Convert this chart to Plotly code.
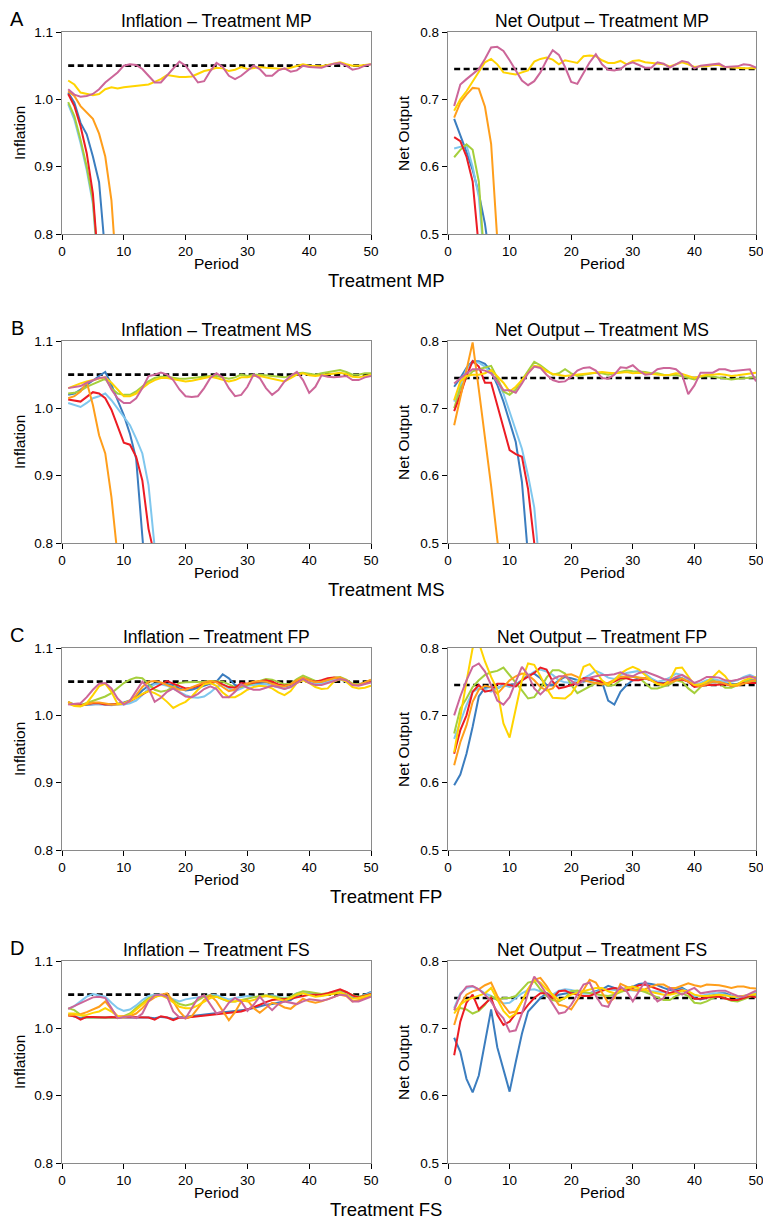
import plotly.graph_objects as go
from plotly.subplots import make_subplots

# ---- data ----
periods = list(range(1, 51))
infl_target = 1.05
output_target = 0.745
shock_start, shock_end = 8, 10

series_names = ["blue", "lightblue", "green", "red", "orange", "yellow", "pink"]
series_colors = ["#3b7dbf", "#7fc7ee", "#a5cf3c", "#ec1c24", "#ff9e1b", "#ffd400", "#cc6699"]

# Treatment MP - inflation
mp_infl_blue = [1.010, 0.995, 0.965, 0.948, 0.915, 0.877, 0.77]
mp_infl_lightblue = [0.993, 0.970, 0.935, 0.895, 0.845, 0.73]
mp_infl_green = [0.996, 0.975, 0.940, 0.900, 0.850, 0.74]
mp_infl_red = [1.008, 0.990, 0.960, 0.920, 0.860, 0.74]
mp_infl_orange = [1.012, 1.005, 0.990, 0.980, 0.971, 0.949, 0.915, 0.850, 0.72]
mp_infl_yellow = [1.028, 1.022, 1.010, 1.008, 1.006, 1.008, 1.015, 1.018, 1.016, 1.018,
                  1.019, 1.019, 1.020, 1.022, 1.026, 1.030, 1.036, 1.034, 1.033, 1.033,
                  1.034, 1.038, 1.042, 1.044, 1.047, 1.046, 1.042, 1.044, 1.048, 1.045,
                  1.047, 1.048, 1.047, 1.046, 1.045, 1.045, 1.047, 1.050, 1.052, 1.050,
                  1.050, 1.049, 1.051, 1.053, 1.055, 1.052, 1.050, 1.050, 1.051, 1.052]
mp_infl_pink = [1.015, 1.007, 1.004, 1.005, 1.008, 1.015, 1.025, 1.033, 1.040, 1.050,
                1.052, 1.051, 1.045, 1.035, 1.025, 1.025, 1.035, 1.045, 1.056, 1.050,
                1.038, 1.025, 1.027, 1.042, 1.054, 1.048, 1.035, 1.030, 1.035, 1.042,
                1.050, 1.045, 1.035, 1.035, 1.043, 1.046, 1.041, 1.043, 1.050, 1.048,
                1.048, 1.047, 1.050, 1.053, 1.054, 1.050, 1.044, 1.046, 1.050, 1.052]

# Treatment MP - net output
mp_out_blue = [0.671, 0.648, 0.622, 0.595, 0.560, 0.515, 0.45]
mp_out_lightblue = [0.627, 0.630, 0.632, 0.600, 0.555, 0.45]
mp_out_green = [0.614, 0.625, 0.633, 0.625, 0.578, 0.45]
mp_out_red = [0.644, 0.638, 0.615, 0.578, 0.48]
mp_out_orange = [0.673, 0.695, 0.707, 0.717, 0.716, 0.689, 0.634, 0.49, 0.35]
mp_out_yellow = [0.683, 0.700, 0.712, 0.727, 0.740, 0.755, 0.760, 0.752, 0.740, 0.739,
                 0.737, 0.740, 0.743, 0.756, 0.760, 0.762, 0.759, 0.752, 0.758, 0.756,
                 0.754, 0.764, 0.765, 0.764, 0.758, 0.754, 0.754, 0.757, 0.752, 0.757,
                 0.758, 0.755, 0.754, 0.752, 0.752, 0.749, 0.752, 0.755, 0.752, 0.748,
                 0.749, 0.749, 0.751, 0.751, 0.748, 0.747, 0.747, 0.746, 0.746, 0.746]
mp_out_pink = [0.690, 0.722, 0.730, 0.738, 0.745, 0.760, 0.777, 0.778, 0.772, 0.758,
               0.742, 0.728, 0.721, 0.727, 0.740, 0.758, 0.773, 0.766, 0.748, 0.726,
               0.723, 0.738, 0.755, 0.767, 0.752, 0.744, 0.743, 0.745, 0.752, 0.755,
               0.751, 0.747, 0.747, 0.755, 0.753, 0.747, 0.752, 0.757, 0.755, 0.746,
               0.750, 0.751, 0.753, 0.753, 0.748, 0.748, 0.749, 0.752, 0.751, 0.747]

# Treatment MS - inflation
ms_infl_blue = [1.020, 1.022, 1.028, 1.035, 1.042, 1.048, 1.054, 1.035, 1.012, 0.990,
                0.962, 0.925, 0.81, 0.70]
ms_infl_lightblue = [1.008, 1.005, 1.002, 1.008, 1.015, 1.018, 1.022, 1.012, 1.000, 0.988,
                     0.975, 0.955, 0.933, 0.886, 0.80, 0.70]
ms_infl_green = [1.022, 1.023, 1.026, 1.032, 1.036, 1.040, 1.044, 1.030, 1.022, 1.020,
                 1.020, 1.025, 1.032, 1.040, 1.045, 1.047, 1.047, 1.045, 1.044, 1.044,
                 1.045, 1.046, 1.048, 1.048, 1.048, 1.046, 1.044, 1.046, 1.050, 1.048,
                 1.050, 1.050, 1.049, 1.048, 1.047, 1.046, 1.048, 1.052, 1.053, 1.051,
                 1.050, 1.052, 1.054, 1.056, 1.057, 1.054, 1.050, 1.050, 1.052, 1.052]
ms_infl_red = [1.013, 1.012, 1.010, 1.017, 1.024, 1.022, 1.015, 0.998, 0.972, 0.949,
               0.946, 0.928, 0.893, 0.821, 0.78]
ms_infl_orange = [1.015, 1.018, 1.025, 1.039, 1.005, 0.960, 0.933, 0.868, 0.78]
ms_infl_yellow = [1.030, 1.034, 1.037, 1.040, 1.042, 1.044, 1.046, 1.038, 1.028, 1.018,
                  1.018, 1.022, 1.030, 1.037, 1.042, 1.045, 1.045, 1.043, 1.041, 1.040,
                  1.041, 1.043, 1.046, 1.047, 1.045, 1.042, 1.040, 1.042, 1.046, 1.046,
                  1.048, 1.048, 1.046, 1.044, 1.042, 1.040, 1.045, 1.050, 1.052, 1.049,
                  1.048, 1.049, 1.050, 1.052, 1.053, 1.051, 1.047, 1.046, 1.048, 1.050]
ms_infl_pink = [1.030, 1.031, 1.033, 1.038, 1.042, 1.045, 1.046, 1.028, 1.015, 1.008,
                1.008, 1.015, 1.030, 1.048, 1.050, 1.053, 1.050, 1.042, 1.028, 1.018,
                1.017, 1.018, 1.030, 1.045, 1.052, 1.046, 1.030, 1.018, 1.020, 1.032,
                1.050, 1.045, 1.030, 1.020, 1.027, 1.040, 1.048, 1.054, 1.042, 1.023,
                1.032, 1.049, 1.047, 1.046, 1.047, 1.048, 1.042, 1.042, 1.046, 1.048]

# Treatment MS - net output
ms_out_blue = [0.732, 0.745, 0.760, 0.770, 0.770, 0.766, 0.755, 0.735, 0.710, 0.680,
               0.650, 0.591, 0.48]
ms_out_lightblue = [0.710, 0.735, 0.758, 0.768, 0.768, 0.762, 0.752, 0.740, 0.722, 0.695,
                    0.668, 0.640, 0.600, 0.553, 0.45]
ms_out_green = [0.700, 0.730, 0.745, 0.755, 0.758, 0.760, 0.763, 0.745, 0.725, 0.720,
                0.728, 0.742, 0.755, 0.769, 0.764, 0.757, 0.750, 0.752, 0.758, 0.752,
                0.748, 0.750, 0.752, 0.753, 0.752, 0.750, 0.752, 0.754, 0.756, 0.755,
                0.755, 0.754, 0.752, 0.752, 0.750, 0.749, 0.750, 0.748, 0.746, 0.743,
                0.747, 0.748, 0.747, 0.746, 0.745, 0.743, 0.744, 0.745, 0.746, 0.746]
ms_out_red = [0.696, 0.720, 0.748, 0.770, 0.762, 0.738, 0.738, 0.705, 0.672, 0.638,
              0.632, 0.628, 0.580, 0.50, 0.42]
ms_out_orange = [0.675, 0.715, 0.760, 0.798, 0.728, 0.660, 0.585, 0.505, 0.43]
ms_out_yellow = [0.712, 0.740, 0.748, 0.750, 0.750, 0.752, 0.757, 0.748, 0.738, 0.725,
                 0.732, 0.742, 0.752, 0.763, 0.762, 0.755, 0.751, 0.749, 0.748, 0.749,
                 0.750, 0.752, 0.753, 0.753, 0.754, 0.753, 0.752, 0.753, 0.754, 0.752,
                 0.753, 0.752, 0.751, 0.750, 0.749, 0.750, 0.752, 0.751, 0.748, 0.745,
                 0.748, 0.750, 0.750, 0.751, 0.750, 0.748, 0.749, 0.750, 0.752, 0.753]
ms_out_pink = [0.737, 0.745, 0.752, 0.758, 0.758, 0.756, 0.752, 0.740, 0.727, 0.727,
               0.723, 0.737, 0.752, 0.762, 0.760, 0.750, 0.742, 0.739, 0.740, 0.747,
               0.756, 0.760, 0.761, 0.756, 0.745, 0.744, 0.750, 0.761, 0.760, 0.764,
               0.756, 0.750, 0.751, 0.758, 0.760, 0.760, 0.758, 0.750, 0.721, 0.734,
               0.753, 0.753, 0.753, 0.758, 0.758, 0.755, 0.756, 0.757, 0.758, 0.740]

# Treatment FP - inflation
fp_infl_blue = [1.019, 1.016, 1.015, 1.016, 1.017, 1.017, 1.016, 1.016, 1.017, 1.019,
                1.022, 1.028, 1.037, 1.044, 1.047, 1.048, 1.047, 1.045, 1.040, 1.037,
                1.038, 1.041, 1.044, 1.046, 1.050, 1.061, 1.055, 1.045, 1.042, 1.045,
                1.046, 1.048, 1.049, 1.047, 1.045, 1.043, 1.045, 1.051, 1.056, 1.052,
                1.049, 1.050, 1.052, 1.054, 1.054, 1.050, 1.046, 1.046, 1.049, 1.051]
fp_infl_lightblue = [1.018, 1.016, 1.016, 1.017, 1.017, 1.017, 1.016, 1.015, 1.016, 1.016,
                     1.018, 1.022, 1.030, 1.040, 1.046, 1.046, 1.044, 1.040, 1.035, 1.030,
                     1.027, 1.026, 1.028, 1.034, 1.042, 1.046, 1.040, 1.036, 1.040, 1.044,
                     1.045, 1.046, 1.046, 1.044, 1.041, 1.039, 1.042, 1.050, 1.054, 1.050,
                     1.047, 1.047, 1.050, 1.053, 1.054, 1.050, 1.045, 1.045, 1.048, 1.050]
fp_infl_green = [1.020, 1.016, 1.015, 1.018, 1.021, 1.024, 1.028, 1.033, 1.040, 1.048,
                 1.053, 1.056, 1.055, 1.046, 1.038, 1.035, 1.037, 1.042, 1.048, 1.049,
                 1.049, 1.049, 1.050, 1.051, 1.051, 1.050, 1.046, 1.042, 1.042, 1.045,
                 1.049, 1.052, 1.054, 1.053, 1.049, 1.046, 1.047, 1.054, 1.059, 1.055,
                 1.051, 1.050, 1.053, 1.056, 1.057, 1.053, 1.047, 1.046, 1.049, 1.052]
fp_infl_red = [1.018, 1.015, 1.015, 1.017, 1.018, 1.018, 1.016, 1.016, 1.017, 1.018,
               1.021, 1.026, 1.032, 1.036, 1.041, 1.046, 1.051, 1.047, 1.043, 1.040,
               1.041, 1.044, 1.047, 1.049, 1.050, 1.046, 1.042, 1.041, 1.048, 1.047,
               1.049, 1.050, 1.052, 1.050, 1.046, 1.044, 1.046, 1.051, 1.055, 1.052,
               1.050, 1.052, 1.055, 1.056, 1.055, 1.051, 1.045, 1.045, 1.048, 1.050]
fp_infl_orange = [1.020, 1.015, 1.014, 1.017, 1.019, 1.019, 1.017, 1.016, 1.016, 1.017,
                  1.021, 1.030, 1.042, 1.050, 1.051, 1.049, 1.045, 1.041, 1.038, 1.038,
                  1.042, 1.046, 1.049, 1.051, 1.049, 1.042, 1.036, 1.038, 1.044, 1.047,
                  1.050, 1.051, 1.050, 1.047, 1.044, 1.043, 1.046, 1.052, 1.056, 1.052,
                  1.049, 1.050, 1.053, 1.055, 1.056, 1.052, 1.046, 1.045, 1.049, 1.053]
fp_infl_yellow = [1.018, 1.014, 1.013, 1.018, 1.030, 1.043, 1.047, 1.035, 1.017, 1.018,
                  1.022, 1.026, 1.032, 1.036, 1.033, 1.028, 1.020, 1.011, 1.016, 1.020,
                  1.028, 1.038, 1.046, 1.048, 1.044, 1.034, 1.027, 1.027, 1.032, 1.038,
                  1.042, 1.044, 1.043, 1.040, 1.034, 1.030, 1.036, 1.048, 1.052, 1.048,
                  1.042, 1.039, 1.040, 1.050, 1.054, 1.050, 1.042, 1.040, 1.041, 1.044]
fp_infl_pink = [1.016, 1.017, 1.018, 1.027, 1.038, 1.047, 1.048, 1.040, 1.025, 1.016,
                1.022, 1.036, 1.050, 1.040, 1.020, 1.026, 1.035, 1.040, 1.034, 1.028,
                1.027, 1.032, 1.039, 1.043, 1.039, 1.027, 1.027, 1.035, 1.046, 1.041,
                1.038, 1.038, 1.041, 1.044, 1.042, 1.039, 1.042, 1.048, 1.054, 1.048,
                1.045, 1.045, 1.048, 1.052, 1.054, 1.052, 1.045, 1.044, 1.046, 1.049]

# Treatment FP - net output
fp_out_blue = [0.596, 0.612, 0.643, 0.683, 0.728, 0.741, 0.742, 0.740, 0.745, 0.745,
               0.746, 0.752, 0.760, 0.762, 0.755, 0.745, 0.745, 0.752, 0.757, 0.755,
               0.752, 0.750, 0.752, 0.752, 0.750, 0.722, 0.716, 0.735, 0.745, 0.752,
               0.755, 0.755, 0.752, 0.749, 0.748, 0.750, 0.755, 0.755, 0.750, 0.744,
               0.745, 0.748, 0.750, 0.750, 0.748, 0.746, 0.747, 0.750, 0.752, 0.752]
fp_out_lightblue = [0.665, 0.690, 0.715, 0.735, 0.740, 0.738, 0.735, 0.740, 0.745, 0.742,
                    0.745, 0.752, 0.758, 0.765, 0.768, 0.765, 0.760, 0.752, 0.749, 0.748,
                    0.752, 0.755, 0.760, 0.766, 0.762, 0.756, 0.754, 0.760, 0.763, 0.765,
                    0.766, 0.762, 0.755, 0.750, 0.752, 0.756, 0.762, 0.760, 0.752, 0.745,
                    0.748, 0.752, 0.754, 0.752, 0.750, 0.750, 0.752, 0.757, 0.760, 0.756]
fp_out_green = [0.673, 0.710, 0.725, 0.742, 0.752, 0.760, 0.764, 0.766, 0.771, 0.760,
                0.748, 0.737, 0.725, 0.727, 0.740, 0.756, 0.767, 0.767, 0.762, 0.745,
                0.733, 0.738, 0.742, 0.748, 0.748, 0.744, 0.745, 0.752, 0.756, 0.758,
                0.756, 0.748, 0.740, 0.740, 0.743, 0.746, 0.752, 0.750, 0.740, 0.733,
                0.742, 0.750, 0.752, 0.748, 0.741, 0.741, 0.745, 0.750, 0.752, 0.750]
fp_out_red = [0.643, 0.678, 0.700, 0.735, 0.745, 0.735, 0.737, 0.747, 0.747, 0.745,
              0.743, 0.752, 0.758, 0.763, 0.771, 0.768, 0.750, 0.740, 0.742, 0.745,
              0.748, 0.755, 0.755, 0.752, 0.750, 0.747, 0.750, 0.755, 0.755, 0.752,
              0.752, 0.755, 0.752, 0.748, 0.747, 0.750, 0.753, 0.753, 0.750, 0.742,
              0.744, 0.745, 0.745, 0.746, 0.746, 0.744, 0.746, 0.748, 0.748, 0.748]
fp_out_orange = [0.626, 0.660, 0.685, 0.720, 0.738, 0.744, 0.742, 0.732, 0.742, 0.752,
                 0.758, 0.762, 0.760, 0.752, 0.742, 0.737, 0.740, 0.752, 0.760, 0.761,
                 0.757, 0.752, 0.750, 0.748, 0.746, 0.748, 0.752, 0.757, 0.758, 0.757,
                 0.755, 0.755, 0.752, 0.747, 0.745, 0.748, 0.752, 0.755, 0.750, 0.745,
                 0.743, 0.746, 0.750, 0.750, 0.747, 0.744, 0.744, 0.747, 0.750, 0.753]
fp_out_yellow = [0.645, 0.700, 0.750, 0.800, 0.808, 0.780, 0.757, 0.738, 0.688, 0.667,
                 0.710, 0.752, 0.777, 0.775, 0.758, 0.740, 0.726, 0.725, 0.725, 0.732,
                 0.746, 0.772, 0.776, 0.765, 0.752, 0.745, 0.752, 0.762, 0.768, 0.772,
                 0.768, 0.760, 0.752, 0.746, 0.745, 0.752, 0.770, 0.771, 0.758, 0.745,
                 0.746, 0.750, 0.757, 0.766, 0.758, 0.745, 0.746, 0.752, 0.755, 0.757]
fp_out_pink = [0.700, 0.728, 0.752, 0.772, 0.777, 0.765, 0.745, 0.722, 0.716, 0.727,
               0.750, 0.772, 0.760, 0.740, 0.731, 0.740, 0.754, 0.758, 0.758, 0.752,
               0.745, 0.752, 0.756, 0.758, 0.760, 0.760, 0.761, 0.764, 0.760, 0.758,
               0.763, 0.765, 0.762, 0.758, 0.754, 0.752, 0.757, 0.760, 0.755, 0.748,
               0.752, 0.757, 0.757, 0.756, 0.752, 0.751, 0.753, 0.756, 0.758, 0.755]

# Treatment FS - inflation
fs_infl_blue = [1.020, 1.017, 1.015, 1.016, 1.016, 1.016, 1.016, 1.017, 1.016, 1.017,
                1.017, 1.016, 1.017, 1.016, 1.015, 1.017, 1.016, 1.014, 1.016, 1.017,
                1.018, 1.019, 1.020, 1.021, 1.022, 1.023, 1.024, 1.025, 1.026, 1.028,
                1.030, 1.033, 1.035, 1.036, 1.038, 1.040, 1.042, 1.048, 1.053, 1.052,
                1.051, 1.049, 1.050, 1.053, 1.055, 1.053, 1.047, 1.046, 1.050, 1.054]
fs_infl_lightblue = [1.029, 1.033, 1.040, 1.047, 1.051, 1.049, 1.047, 1.038, 1.030, 1.026,
                     1.028, 1.034, 1.042, 1.048, 1.050, 1.050, 1.047, 1.043, 1.040, 1.043,
                     1.045, 1.046, 1.047, 1.050, 1.049, 1.046, 1.043, 1.045, 1.047, 1.048,
                     1.047, 1.046, 1.048, 1.049, 1.047, 1.045, 1.047, 1.052, 1.054, 1.053,
                     1.051, 1.050, 1.051, 1.053, 1.055, 1.053, 1.048, 1.047, 1.049, 1.053]
fs_infl_green = [1.030, 1.027, 1.020, 1.016, 1.016, 1.016, 1.016, 1.016, 1.016, 1.018,
                 1.022, 1.030, 1.038, 1.045, 1.048, 1.049, 1.047, 1.042, 1.036, 1.034,
                 1.036, 1.042, 1.047, 1.049, 1.047, 1.043, 1.040, 1.040, 1.042, 1.045,
                 1.047, 1.048, 1.049, 1.048, 1.046, 1.044, 1.047, 1.052, 1.055, 1.054,
                 1.052, 1.051, 1.052, 1.054, 1.056, 1.054, 1.049, 1.047, 1.049, 1.051]
fs_infl_red = [1.019, 1.018, 1.013, 1.017, 1.017, 1.016, 1.016, 1.017, 1.016, 1.017,
               1.017, 1.016, 1.017, 1.016, 1.013, 1.018, 1.016, 1.012, 1.016, 1.015,
               1.017, 1.018, 1.019, 1.020, 1.021, 1.022, 1.022, 1.023, 1.025, 1.028,
               1.031, 1.035, 1.039, 1.042, 1.043, 1.043, 1.044, 1.046, 1.048, 1.050,
               1.050, 1.050, 1.052, 1.055, 1.058, 1.054, 1.049, 1.046, 1.048, 1.051]
fs_infl_orange = [1.019, 1.020, 1.021, 1.024, 1.028, 1.032, 1.040, 1.028, 1.018, 1.018,
                  1.018, 1.022, 1.030, 1.040, 1.046, 1.050, 1.052, 1.040, 1.025, 1.015,
                  1.018, 1.030, 1.042, 1.049, 1.040, 1.026, 1.012, 1.024, 1.040, 1.042,
                  1.030, 1.023, 1.030, 1.038, 1.036, 1.031, 1.029, 1.037, 1.044, 1.040,
                  1.038, 1.040, 1.043, 1.047, 1.050, 1.048, 1.040, 1.042, 1.046, 1.049]
fs_infl_yellow = [1.022, 1.022, 1.019, 1.020, 1.023, 1.025, 1.030, 1.025, 1.018, 1.016,
                  1.020, 1.028, 1.036, 1.043, 1.047, 1.049, 1.045, 1.038, 1.032, 1.030,
                  1.030, 1.034, 1.039, 1.045, 1.047, 1.043, 1.040, 1.040, 1.042, 1.040,
                  1.042, 1.046, 1.048, 1.046, 1.043, 1.041, 1.045, 1.050, 1.052, 1.050,
                  1.047, 1.048, 1.050, 1.052, 1.053, 1.050, 1.044, 1.045, 1.048, 1.050]
fs_infl_pink = [1.029, 1.033, 1.037, 1.042, 1.046, 1.047, 1.045, 1.030, 1.015, 1.017,
                1.018, 1.015, 1.022, 1.040, 1.049, 1.050, 1.047, 1.025, 1.016, 1.015,
                1.030, 1.045, 1.049, 1.035, 1.022, 1.025, 1.038, 1.045, 1.040, 1.026,
                1.035, 1.047, 1.036, 1.027, 1.036, 1.040, 1.038, 1.036, 1.040, 1.043,
                1.042, 1.041, 1.043, 1.047, 1.050, 1.049, 1.040, 1.040, 1.044, 1.047]

# Treatment FS - net output
fs_out_blue = [0.686, 0.665, 0.625, 0.605, 0.630, 0.680, 0.728, 0.672, 0.638, 0.606,
               0.650, 0.692, 0.725, 0.735, 0.745, 0.752, 0.745, 0.750, 0.752, 0.754,
               0.755, 0.752, 0.752, 0.755, 0.758, 0.763, 0.760, 0.757, 0.760, 0.762,
               0.766, 0.767, 0.766, 0.764, 0.760, 0.757, 0.758, 0.760, 0.755, 0.745,
               0.743, 0.746, 0.749, 0.752, 0.752, 0.748, 0.745, 0.746, 0.750, 0.752]
fs_out_lightblue = [0.730, 0.752, 0.760, 0.762, 0.758, 0.752, 0.748, 0.742, 0.737, 0.738,
                    0.745, 0.752, 0.757, 0.758, 0.755, 0.752, 0.750, 0.756, 0.758, 0.757,
                    0.754, 0.752, 0.752, 0.754, 0.756, 0.758, 0.757, 0.756, 0.757, 0.756,
                    0.755, 0.755, 0.755, 0.755, 0.754, 0.752, 0.755, 0.758, 0.755, 0.748,
                    0.748, 0.750, 0.752, 0.752, 0.750, 0.748, 0.746, 0.748, 0.751, 0.753]
fs_out_green = [0.727, 0.730, 0.728, 0.722, 0.726, 0.735, 0.748, 0.742, 0.745, 0.745,
                0.748, 0.758, 0.768, 0.770, 0.758, 0.748, 0.742, 0.740, 0.745, 0.755,
                0.756, 0.754, 0.752, 0.750, 0.749, 0.748, 0.750, 0.754, 0.757, 0.758,
                0.757, 0.754, 0.750, 0.745, 0.742, 0.742, 0.748, 0.752, 0.748, 0.738,
                0.737, 0.740, 0.745, 0.748, 0.745, 0.741, 0.740, 0.743, 0.747, 0.750]
fs_out_red = [0.660, 0.710, 0.738, 0.750, 0.728, 0.736, 0.745, 0.720, 0.705, 0.710,
              0.722, 0.723, 0.735, 0.745, 0.752, 0.752, 0.745, 0.755, 0.756, 0.752,
              0.750, 0.748, 0.748, 0.752, 0.756, 0.758, 0.760, 0.758, 0.756, 0.760,
              0.764, 0.765, 0.762, 0.758, 0.755, 0.752, 0.755, 0.757, 0.752, 0.744,
              0.744, 0.746, 0.747, 0.747, 0.745, 0.742, 0.742, 0.745, 0.748, 0.746]
fs_out_orange = [0.705, 0.735, 0.750, 0.755, 0.758, 0.764, 0.768, 0.748, 0.735, 0.723,
                 0.725, 0.740, 0.758, 0.772, 0.775, 0.763, 0.748, 0.735, 0.733, 0.728,
                 0.742, 0.756, 0.772, 0.768, 0.752, 0.738, 0.745, 0.766, 0.762, 0.757,
                 0.756, 0.758, 0.762, 0.765, 0.765, 0.760, 0.760, 0.763, 0.767, 0.764,
                 0.762, 0.765, 0.765, 0.764, 0.762, 0.760, 0.762, 0.762, 0.760, 0.759]
fs_out_yellow = [0.722, 0.735, 0.742, 0.745, 0.748, 0.752, 0.760, 0.742, 0.726, 0.716,
                 0.722, 0.740, 0.758, 0.772, 0.768, 0.758, 0.750, 0.742, 0.745, 0.750,
                 0.753, 0.755, 0.758, 0.760, 0.760, 0.755, 0.752, 0.756, 0.760, 0.762,
                 0.760, 0.757, 0.754, 0.752, 0.750, 0.750, 0.752, 0.756, 0.755, 0.750,
                 0.748, 0.748, 0.749, 0.750, 0.749, 0.747, 0.747, 0.748, 0.750, 0.751]
fs_out_pink = [0.727, 0.750, 0.762, 0.763, 0.758, 0.750, 0.740, 0.725, 0.715, 0.695,
               0.697, 0.722, 0.752, 0.777, 0.765, 0.750, 0.735, 0.722, 0.724, 0.735,
               0.750, 0.765, 0.768, 0.748, 0.734, 0.732, 0.750, 0.762, 0.755, 0.740,
               0.755, 0.770, 0.752, 0.740, 0.745, 0.760, 0.755, 0.750, 0.756, 0.760,
               0.752, 0.754, 0.755, 0.756, 0.756, 0.752, 0.748, 0.747, 0.752, 0.756]

treatments = ["MP", "MS", "FP", "FS"]
panel_letters = ["A", "B", "C", "D"]
has_shock = [False, True, False, True]

infl_panels = [
    [mp_infl_blue, mp_infl_lightblue, mp_infl_green, mp_infl_red, mp_infl_orange, mp_infl_yellow, mp_infl_pink],
    [ms_infl_blue, ms_infl_lightblue, ms_infl_green, ms_infl_red, ms_infl_orange, ms_infl_yellow, ms_infl_pink],
    [fp_infl_blue, fp_infl_lightblue, fp_infl_green, fp_infl_red, fp_infl_orange, fp_infl_yellow, fp_infl_pink],
    [fs_infl_blue, fs_infl_lightblue, fs_infl_green, fs_infl_red, fs_infl_orange, fs_infl_yellow, fs_infl_pink],
]
out_panels = [
    [mp_out_blue, mp_out_lightblue, mp_out_green, mp_out_red, mp_out_orange, mp_out_yellow, mp_out_pink],
    [ms_out_blue, ms_out_lightblue, ms_out_green, ms_out_red, ms_out_orange, ms_out_yellow, ms_out_pink],
    [fp_out_blue, fp_out_lightblue, fp_out_green, fp_out_red, fp_out_orange, fp_out_yellow, fp_out_pink],
    [fs_out_blue, fs_out_lightblue, fs_out_green, fs_out_red, fs_out_orange, fs_out_yellow, fs_out_pink],
]

# ---- layout geometry (pixels; page margin removed so the figure fills the window) ----
W, H = 763, 1219
col_x = [(62, 371), (448, 756)]
row_top = [32, 341, 648, 961]
panel_h = 202
FONT = "Liberation Sans, Arial, Helvetica, sans-serif"


def fx(px):
    return px / W


def fy(py):
    return 1 - py / H


fig = make_subplots(rows=4, cols=2)

for r in range(4):
    for c in range(2):
        row, col = r + 1, c + 1
        data = infl_panels[r] if c == 0 else out_panels[r]
        target = infl_target if c == 0 else output_target
        if has_shock[r]:
            fig.add_vrect(x0=shock_start, x1=shock_end, fillcolor="#d3d3d3", opacity=1,
                          line_width=0, layer="below", row=row, col=col)
        fig.add_trace(go.Scatter(x=[periods[0], periods[-1]], y=[target, target], mode="lines",
                                 line=dict(color="black", width=2.6, dash="6px,3.5px"),
                                 showlegend=False, hoverinfo="skip"), row=row, col=col)
        for name, color, vals in zip(series_names, series_colors, data):
            fig.add_trace(go.Scatter(x=periods[:len(vals)], y=vals, mode="lines", name=name,
                                     line=dict(color=color, width=2), showlegend=False),
                          row=row, col=col)

        n = r * 2 + c + 1
        sfx = "" if n == 1 else str(n)
        x0, x1 = col_x[c]
        top = row_top[r]
        fig.layout["xaxis" + sfx].update(
            domain=[fx(x0), fx(x1)], range=[0, 50], dtick=10, tick0=0, automargin=False,
            ticklabeloverflow="allow",
            showgrid=False, zeroline=False, showline=True, mirror=True,
            linecolor="#8a8a8a", linewidth=1.3, ticks="outside", ticklen=5,
            tickcolor="black", tickfont=dict(size=13.5, color="black", family=FONT))
        fig.layout["yaxis" + sfx].update(
            domain=[fy(top + panel_h), fy(top)], automargin=False,
            ticklabeloverflow="allow",
            range=[0.8, 1.1] if c == 0 else [0.5, 0.8],
            tickvals=[0.8, 0.9, 1.0, 1.1] if c == 0 else [0.5, 0.6, 0.7, 0.8],
            tickformat=".1f", showgrid=False, zeroline=False, showline=True, mirror=True,
            linecolor="#8a8a8a", linewidth=1.3, ticks="outside", ticklen=5,
            tickcolor="black", tickfont=dict(size=13.5, color="black", family=FONT))

annotations = []
for r in range(4):
    top = row_top[r]
    bottom = top + panel_h
    annotations.append(dict(text=panel_letters[r], x=fx(17), y=fy(top - 13), font=dict(size=20)))
    for c, label in enumerate(["Inflation", "Net Output"]):
        x0, x1 = col_x[c]
        annotations.append(dict(text=f"{label} – Treatment {treatments[r]}",
                                x=fx((x0 + x1) / 2), y=fy(top - 11), font=dict(size=17.5)))
        annotations.append(dict(text="Period", x=fx((x0 + x1) / 2), y=fy(bottom + 29),
                                font=dict(size=15.5)))
        annotations.append(dict(text=label, x=fx(19 if c == 0 else 403),
                                y=fy(top + panel_h / 2), textangle=-90, font=dict(size=15.5)))
    annotations.append(dict(text=f"Treatment {treatments[r]}", x=fx(386), y=fy(bottom + 46),
                            font=dict(size=18.5)))

for a in annotations:
    a.update(xref="paper", yref="paper", showarrow=False, xanchor="center", yanchor="middle")
    a["font"].update(family=FONT, color="black")

fig.update_layout(width=W, height=H, margin=dict(l=0, r=0, t=0, b=0, autoexpand=False),
                  paper_bgcolor="white", plot_bgcolor="white",
                  font=dict(family=FONT, color="black"),
                  annotations=annotations, showlegend=False)

fig.write_html("out.html", config={"displayModeBar": False},
               post_script="document.body.style.margin='0';document.body.style.overflow='hidden';")
